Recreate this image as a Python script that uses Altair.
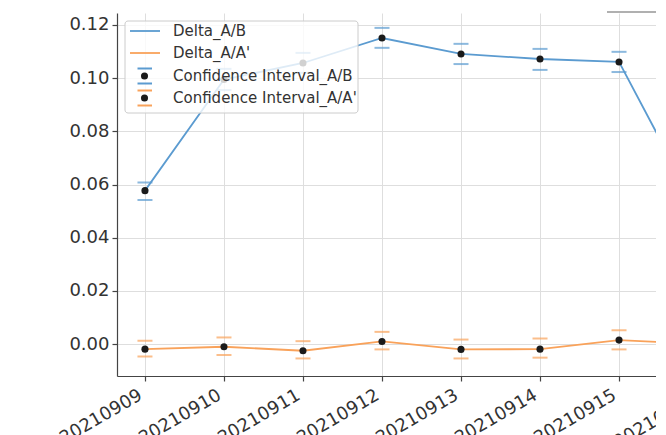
import json
import altair as alt
import pandas as pd

# ---- data ----
dates = ["20210909", "20210910", "20210911", "20210912",
         "20210913", "20210914", "20210915", "20210916"]
delta_ab = [0.0577, 0.0995, 0.1057, 0.1151, 0.1091, 0.1072, 0.1061, 0.0500]
ci_ab_low = [0.0542, 0.0955, 0.1020, 0.1114, 0.1053, 0.1031, 0.1023, 0.0462]
ci_ab_high = [0.0608, 0.1035, 0.1095, 0.1189, 0.1129, 0.1110, 0.1099, 0.0538]
delta_aa = [-0.0019, -0.0010, -0.0025, 0.0010, -0.0020, -0.0019, 0.0015, 0.0000]
ci_aa_low = [-0.0047, -0.0041, -0.0054, -0.0020, -0.0054, -0.0051, -0.0020, -0.0033]
ci_aa_high = [0.0013, 0.0025, 0.0011, 0.0046, 0.0017, 0.0021, 0.0052, 0.0033]
series_names = ["A/B", "A/A'"]
legend_labels = ["Delta_A/B", "Delta_A/A'", "Confidence Interval_A/B", "Confidence Interval_A/A'"]
y_ticks = [0.0, 0.02, 0.04, 0.06, 0.08, 0.10, 0.12]

BLUE = "#5b9bd0"
ORANGE = "#f9a25a"
FONT = "DejaVu Sans"
W, H = 539, 363

rows = []
for i, d in enumerate(dates):
    rows.append({"idx": i, "date": d, "series": series_names[0],
                 "delta": delta_ab[i], "lo": ci_ab_low[i], "hi": ci_ab_high[i]})
for i, d in enumerate(dates):
    rows.append({"idx": i, "date": d, "series": series_names[1],
                 "delta": delta_aa[i], "lo": ci_aa_low[i], "hi": ci_aa_high[i]})
df = pd.DataFrame(rows)

label_expr = json.dumps(dates) + "[datum.value]"
x_enc = alt.X("idx:Q",
              scale=alt.Scale(domain=[-0.354, 6.468], nice=False, zero=False),
              axis=alt.Axis(values=list(range(7)), labelExpr=label_expr, title=None,
                            labelAngle=-30, labelAlign="right", labelBaseline="top",
                            labelOverlap=False, labelBound=False, labelOffset=-9,
                            tickSize=5, labelPadding=5, grid=True))
y_scale = alt.Scale(domain=[-0.012, 0.1245], nice=False, zero=False)
color = alt.Color("series:N", scale=alt.Scale(domain=series_names, range=[BLUE, ORANGE]),
                  legend=None)

base = alt.Chart(df)
lines = base.mark_line(strokeWidth=1.8, clip=True).encode(
    x=x_enc,
    y=alt.Y("delta:Q", scale=y_scale,
            axis=alt.Axis(values=y_ticks, format=".2f", title=None, tickSize=5,
                          labelPadding=3, grid=True)),
    color=color, detail="series:N")
cap_hi = base.mark_tick(orient="horizontal", size=15, thickness=2, clip=True).encode(
    x=x_enc, y=alt.Y("hi:Q", scale=y_scale), color=color)
cap_lo = base.mark_tick(orient="horizontal", size=15, thickness=2, clip=True).encode(
    x=x_enc, y=alt.Y("lo:Q", scale=y_scale), color=color)
dots = base.mark_point(filled=True, size=50, color="#1a1a1a", opacity=1, clip=True).encode(
    x=x_enc, y=alt.Y("delta:Q", scale=y_scale))

# last (cut-off) date label, styled like the axis labels
last_lab = pd.DataFrame({"idx": [len(dates) - 1], "date": [dates[-1]]})
cut_label = alt.Chart(last_lab).mark_text(
    angle=330, align="right", baseline="top", font=FONT, fontSize=18, color="#333333",
    dx=-9
).encode(x=x_enc, y=alt.value(H + 10), text="date:N")

# ---- legend (matplotlib-style box) ----
one = pd.DataFrame({"k": [0]})
leg_box = alt.Chart(one).mark_rect(
    fill="white", fillOpacity=0.8, stroke="#cccccc", strokeWidth=1, cornerRadius=3
).encode(x=alt.value(8), x2=alt.value(241), y=alt.value(8), y2=alt.value(100))
leg_layers = [leg_box]
row_y = [18, 40, 63, 85]
for j, col in enumerate([BLUE, ORANGE]):
    leg_layers.append(alt.Chart(one).mark_rule(color=col, strokeWidth=1.8).encode(
        x=alt.value(13), x2=alt.value(43), y=alt.value(row_y[j])))
for j, col in enumerate([BLUE, ORANGE]):
    yy = row_y[j + 2]
    for dy in (-7.5, 7.5):
        leg_layers.append(alt.Chart(one).mark_rule(color=col, strokeWidth=2).encode(
            x=alt.value(20.5), x2=alt.value(35), y=alt.value(yy + dy)))
    leg_layers.append(alt.Chart(one).mark_point(filled=True, size=50, color="#1a1a1a",
                                               opacity=1).encode(
        x=alt.value(27.5), y=alt.value(yy)))
for j, lab in enumerate(legend_labels):
    leg_layers.append(alt.Chart(one).mark_text(
        align="left", baseline="middle", font=FONT, fontSize=15, color="#333333"
    ).encode(x=alt.value(56), y=alt.value(row_y[j]), text=alt.value(lab)))

top_line = alt.Chart(one).mark_rule(color="#b0b0b0", strokeWidth=2).encode(
    x=alt.value(490), x2=alt.value(W), y=alt.value(-1))

chart = alt.layer(lines, cap_hi, cap_lo, dots, cut_label, *leg_layers, top_line).properties(
    width=W, height=H,
    autosize=alt.AutoSizeParams(type="none"),
    padding={"left": 109, "top": 5, "right": 0, "bottom": 60},
).configure_view(strokeWidth=0).configure_axis(
    labelFont=FONT, labelFontSize=18, labelColor="#333333",
    domainColor="#444444", domainWidth=1.2, tickColor="#444444", tickWidth=1.2,
    gridColor="#dedede", gridWidth=1,
)

chart.save("out.html", embed_options={"renderer": "svg", "actions": False})
